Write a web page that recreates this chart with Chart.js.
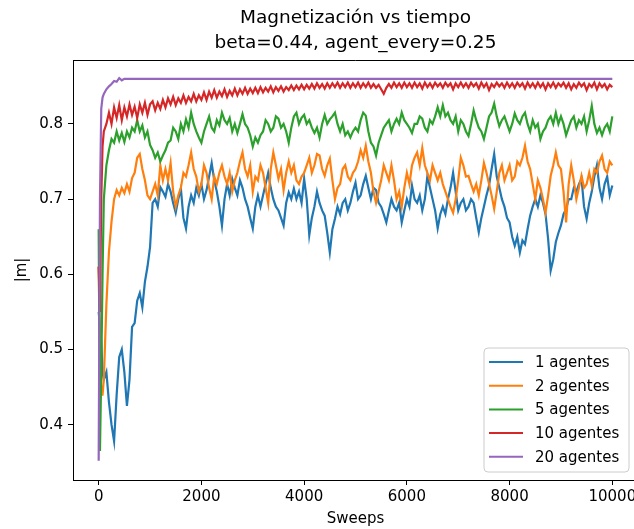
<!DOCTYPE html>
<html>
<head>
<meta charset="utf-8">
<title>Magnetización vs tiempo</title>
<script src="https://cdn.jsdelivr.net/npm/chart.js@4.4.1/dist/chart.umd.min.js"></script>
<style>
    html, body { margin: 0; padding: 0; background: #fff; overflow: hidden; }
    #magChart { display: block; }
</style>
</head>
<body>
<canvas id="magChart" width="640" height="529"></canvas>
<script>
// Sweeps shared by the 1, 2, 5 and 10 agent runs
const sweeps = [
    0, 25, 50, 75, 100, 150, 200, 250, 300, 350, 400, 450, 500, 550, 600, 650, 700, 750, 800, 850, 900, 950, 1000,
    1050, 1100, 1150, 1200, 1250, 1300, 1350, 1400, 1450, 1500, 1550, 1600, 1650, 1700, 1750, 1800, 1850, 1900, 1950, 2000,
    2050, 2100, 2150, 2200, 2250, 2300, 2350, 2400, 2450, 2500, 2550, 2600, 2650, 2700, 2750, 2800, 2850, 2900, 2950, 3000,
    3050, 3100, 3150, 3200, 3250, 3300, 3350, 3400, 3450, 3500, 3550, 3600, 3650, 3700, 3750, 3800, 3850, 3900, 3950, 4000,
    4050, 4100, 4150, 4200, 4250, 4300, 4350, 4400, 4450, 4500, 4550, 4600, 4650, 4700, 4750, 4800, 4850, 4900, 4950, 5000,
    5050, 5100, 5150, 5200, 5250, 5300, 5350, 5400, 5450, 5500, 5550, 5600, 5650, 5700, 5750, 5800, 5850, 5900, 5950, 6000,
    6050, 6100, 6150, 6200, 6250, 6300, 6350, 6400, 6450, 6500, 6550, 6600, 6650, 6700, 6750, 6800, 6850, 6900, 6950, 7000,
    7050, 7100, 7150, 7200, 7250, 7300, 7350, 7400, 7450, 7500, 7550, 7600, 7650, 7700, 7750, 7800, 7850, 7900, 7950, 8000,
    8050, 8100, 8150, 8200, 8250, 8300, 8350, 8400, 8450, 8500, 8550, 8600, 8650, 8700, 8750, 8800, 8850, 8900, 8950, 9000,
    9050, 9100, 9150, 9200, 9250, 9300, 9350, 9400, 9450, 9500, 9550, 9600, 9650, 9700, 9750, 9800, 9850, 9900, 9950, 10000
];

const m1 = [
    0.55, 0.53, 0.51, 0.47, 0.46, 0.47, 0.43, 0.40, 0.378, 0.44, 0.49, 0.50, 0.47, 0.425, 0.46, 0.53, 0.535, 0.565, 0.575, 0.556, 0.59, 0.61, 0.636,
    0.695, 0.70, 0.69, 0.716, 0.71, 0.703, 0.72, 0.71, 0.695, 0.682, 0.70, 0.714, 0.675, 0.661, 0.69, 0.705, 0.695, 0.715, 0.705, 0.72,
    0.70, 0.712, 0.73, 0.748, 0.725, 0.71, 0.69, 0.665, 0.70, 0.72, 0.705, 0.727, 0.715, 0.705, 0.725, 0.715, 0.70, 0.69, 0.675, 0.661,
    0.69, 0.705, 0.69, 0.705, 0.72, 0.735, 0.715, 0.70, 0.69, 0.685, 0.675, 0.665, 0.695, 0.709, 0.70, 0.714, 0.70, 0.71, 0.695, 0.727,
    0.70, 0.652, 0.675, 0.69, 0.71, 0.695, 0.685, 0.678, 0.655, 0.629, 0.66, 0.674, 0.69, 0.68, 0.695, 0.70, 0.685, 0.695, 0.71, 0.722,
    0.70, 0.705, 0.72, 0.731, 0.715, 0.70, 0.715, 0.712, 0.695, 0.69, 0.68, 0.669, 0.685, 0.70, 0.69, 0.685, 0.695, 0.669, 0.685, 0.70,
    0.69, 0.718, 0.70, 0.695, 0.705, 0.685, 0.70, 0.731, 0.715, 0.70, 0.685, 0.661, 0.68, 0.69, 0.68, 0.70, 0.715, 0.735, 0.71, 0.685,
    0.695, 0.70, 0.685, 0.69, 0.70, 0.695, 0.675, 0.656, 0.675, 0.69, 0.705, 0.718, 0.74, 0.76, 0.73, 0.715, 0.70, 0.69, 0.675, 0.669,
    0.65, 0.638, 0.65, 0.629, 0.645, 0.64, 0.66, 0.678, 0.69, 0.70, 0.69, 0.705, 0.695, 0.68, 0.647, 0.605, 0.62, 0.643, 0.655, 0.665,
    0.68, 0.687, 0.70, 0.70, 0.715, 0.71, 0.72, 0.727, 0.69, 0.674, 0.695, 0.71, 0.73, 0.745, 0.715, 0.70, 0.72, 0.73, 0.705, 0.718
];

const m2 = [
    0.61, 0.50, 0.44, 0.44, 0.46, 0.56, 0.63, 0.67, 0.70, 0.712, 0.705, 0.715, 0.708, 0.72, 0.71, 0.728, 0.735, 0.755, 0.76, 0.74, 0.725, 0.705, 0.70,
    0.71, 0.72, 0.705, 0.745, 0.725, 0.74, 0.725, 0.748, 0.71, 0.69, 0.705, 0.715, 0.735, 0.73, 0.745, 0.762, 0.74, 0.73, 0.71, 0.72,
    0.745, 0.735, 0.715, 0.70, 0.73, 0.72, 0.735, 0.745, 0.73, 0.72, 0.735, 0.71, 0.725, 0.735, 0.75, 0.762, 0.74, 0.73, 0.745, 0.71,
    0.73, 0.725, 0.745, 0.735, 0.715, 0.695, 0.74, 0.762, 0.745, 0.727, 0.74, 0.712, 0.735, 0.75, 0.735, 0.745, 0.725, 0.72, 0.73, 0.735,
    0.745, 0.755, 0.735, 0.745, 0.76, 0.758, 0.74, 0.731, 0.745, 0.754, 0.725, 0.70, 0.715, 0.72, 0.74, 0.745, 0.73, 0.725, 0.735, 0.74,
    0.75, 0.765, 0.755, 0.771, 0.75, 0.735, 0.71, 0.695, 0.71, 0.725, 0.745, 0.735, 0.725, 0.745, 0.725, 0.70, 0.71, 0.69, 0.715, 0.735,
    0.72, 0.745, 0.755, 0.762, 0.745, 0.768, 0.745, 0.735, 0.725, 0.745, 0.735, 0.725, 0.735, 0.72, 0.71, 0.70, 0.69, 0.682, 0.70, 0.725,
    0.755, 0.745, 0.73, 0.731, 0.72, 0.71, 0.72, 0.705, 0.725, 0.748, 0.735, 0.72, 0.705, 0.687, 0.71, 0.735, 0.745, 0.725, 0.735, 0.745,
    0.725, 0.73, 0.75, 0.745, 0.755, 0.771, 0.75, 0.74, 0.72, 0.70, 0.725, 0.715, 0.70, 0.682, 0.705, 0.731, 0.745, 0.762, 0.745, 0.74,
    0.71, 0.669, 0.72, 0.745, 0.725, 0.70, 0.715, 0.731, 0.715, 0.72, 0.735, 0.718, 0.74, 0.735, 0.75, 0.758, 0.74, 0.735, 0.75, 0.745
];

const m5 = [
    0.66, 0.365, 0.47, 0.60, 0.70, 0.745, 0.765, 0.78, 0.775, 0.79, 0.778, 0.788, 0.776, 0.79, 0.782, 0.795, 0.79, 0.805, 0.79, 0.798, 0.782, 0.79, 0.772,
    0.765, 0.755, 0.762, 0.75, 0.758, 0.765, 0.775, 0.778, 0.795, 0.79, 0.78, 0.80, 0.79, 0.806, 0.795, 0.815, 0.80, 0.79, 0.782, 0.775,
    0.79, 0.80, 0.81, 0.795, 0.79, 0.805, 0.798, 0.815, 0.805, 0.80, 0.808, 0.79, 0.80, 0.788, 0.80, 0.813, 0.80, 0.795, 0.785, 0.77,
    0.782, 0.775, 0.785, 0.79, 0.805, 0.80, 0.79, 0.795, 0.81, 0.807, 0.795, 0.80, 0.79, 0.775, 0.795, 0.81, 0.815, 0.80, 0.808, 0.812,
    0.80, 0.805, 0.795, 0.788, 0.795, 0.782, 0.80, 0.812, 0.80, 0.806, 0.81, 0.815, 0.80, 0.79, 0.80, 0.785, 0.79, 0.782, 0.79, 0.795,
    0.79, 0.805, 0.815, 0.811, 0.79, 0.775, 0.77, 0.758, 0.775, 0.785, 0.795, 0.80, 0.805, 0.79, 0.80, 0.807, 0.80, 0.815, 0.805, 0.80,
    0.795, 0.788, 0.80, 0.80, 0.81, 0.807, 0.795, 0.79, 0.805, 0.80, 0.81, 0.822, 0.81, 0.825, 0.81, 0.815, 0.805, 0.80, 0.81, 0.79,
    0.805, 0.80, 0.79, 0.784, 0.80, 0.818, 0.805, 0.795, 0.79, 0.78, 0.795, 0.81, 0.815, 0.827, 0.81, 0.797, 0.805, 0.81, 0.80, 0.79,
    0.80, 0.814, 0.805, 0.80, 0.81, 0.815, 0.80, 0.79, 0.805, 0.795, 0.80, 0.78, 0.79, 0.795, 0.805, 0.81, 0.80, 0.815, 0.80, 0.81,
    0.80, 0.785, 0.795, 0.805, 0.81, 0.795, 0.805, 0.80, 0.81, 0.79, 0.805, 0.824, 0.80, 0.788, 0.795, 0.785, 0.795, 0.80, 0.79, 0.81
];

const m10 = [
    0.61, 0.55, 0.70, 0.77, 0.79, 0.80, 0.815, 0.80, 0.822, 0.808, 0.825, 0.805, 0.822, 0.81, 0.826, 0.812, 0.823, 0.808, 0.826, 0.815, 0.828, 0.812, 0.826,
    0.83, 0.818, 0.828, 0.82, 0.832, 0.822, 0.834, 0.826, 0.836, 0.825, 0.834, 0.828, 0.838, 0.828, 0.836, 0.83, 0.84, 0.83, 0.838, 0.832,
    0.842, 0.832, 0.843, 0.835, 0.845, 0.835, 0.843, 0.837, 0.846, 0.836, 0.844, 0.838, 0.847, 0.838, 0.846, 0.84, 0.848, 0.84, 0.847, 0.841,
    0.848, 0.841, 0.849, 0.842, 0.848, 0.843, 0.85, 0.842, 0.849, 0.844, 0.85, 0.843, 0.849, 0.845, 0.851, 0.845, 0.851, 0.846, 0.852, 0.846,
    0.852, 0.847, 0.853, 0.847, 0.854, 0.848, 0.853, 0.847, 0.854, 0.848, 0.854, 0.849, 0.855, 0.848, 0.854, 0.849, 0.855, 0.848, 0.854, 0.849,
    0.855, 0.848, 0.854, 0.849, 0.855, 0.848, 0.853, 0.848, 0.852, 0.846, 0.84, 0.848, 0.853, 0.848, 0.855, 0.849, 0.854, 0.848, 0.855, 0.849,
    0.854, 0.848, 0.855, 0.849, 0.854, 0.847, 0.855, 0.849, 0.854, 0.848, 0.855, 0.85, 0.854, 0.848, 0.855, 0.85, 0.854, 0.846, 0.854, 0.849,
    0.855, 0.849, 0.854, 0.848, 0.855, 0.85, 0.854, 0.847, 0.855, 0.849, 0.854, 0.845, 0.853, 0.849, 0.855, 0.85, 0.854, 0.848, 0.855, 0.849,
    0.854, 0.848, 0.855, 0.85, 0.854, 0.847, 0.855, 0.849, 0.854, 0.848, 0.855, 0.849, 0.854, 0.846, 0.854, 0.849, 0.855, 0.848, 0.854, 0.85,
    0.855, 0.848, 0.854, 0.846, 0.853, 0.848, 0.855, 0.85, 0.854, 0.845, 0.853, 0.849, 0.855, 0.846, 0.854, 0.849, 0.853, 0.846, 0.852, 0.849
];

// 20 agents saturates almost at once, so it gets its own short sweep list
const sweeps20 = [0, 25, 50, 75, 100, 150, 200, 250, 300, 350, 400, 450, 500, 1000, 2000, 4000, 6000, 8000, 10000];
const m20 = [0.352, 0.70, 0.82, 0.835, 0.84, 0.846, 0.85, 0.853, 0.857, 0.856, 0.861, 0.858, 0.86, 0.86, 0.86, 0.86, 0.86, 0.86, 0.86];

const seriesLabels = ['1 agentes', '2 agentes', '5 agentes', '10 agentes', '20 agentes'];
const seriesColors = ['#1f77b4', '#ff7f0e', '#2ca02c', '#d62728', '#9467bd'];

const xTicks = [0, 2000, 4000, 6000, 8000, 10000];
const yTicks = [0.4, 0.5, 0.6, 0.7, 0.8];

const FONT = "'DejaVu Sans', 'Liberation Sans', sans-serif";

// Turn two arrays into {x, y} points for the linear x axis
function toPoints(xs, ys) {
    return ys.map((y, i) => ({ x: xs[i], y: y }));
}

// Title, axis labels, top/right frame and legend, drawn the matplotlib way
const decorPlugin = {
    id: 'decor',
    afterDraw(chart) {
        const ctx = chart.ctx;
        const area = chart.chartArea;
        const cx = (area.left + area.right) / 2;

        ctx.save();
        ctx.fillStyle = '#000';
        ctx.textAlign = 'center';
        ctx.textBaseline = 'middle';

        // Title
        ctx.font = '18.5px ' + FONT;
        ctx.fillText('Magnetización vs tiempo', cx, 18);
        ctx.fillText('beta=0.44, agent_every=0.25', cx, 43);

        // Axis labels
        ctx.font = '15px ' + FONT;
        ctx.fillText('Sweeps', cx, 519);
        ctx.save();
        ctx.translate(22, (area.top + area.bottom) / 2);
        ctx.rotate(-Math.PI / 2);
        ctx.fillText('|m|', 0, 0);
        ctx.restore();

        // Top and right spines
        ctx.strokeStyle = '#000';
        ctx.lineWidth = 1;
        ctx.beginPath();
        ctx.moveTo(area.left, area.top + 0.5);
        ctx.lineTo(area.right + 0.5, area.top + 0.5);
        ctx.lineTo(area.right + 0.5, area.bottom);
        ctx.stroke();

        // Legend box (lower right)
        const bx = 484, by = 348, bw = 145, bh = 124, r = 4;
        ctx.beginPath();
        ctx.moveTo(bx + r, by);
        ctx.arcTo(bx + bw, by, bx + bw, by + bh, r);
        ctx.arcTo(bx + bw, by + bh, bx, by + bh, r);
        ctx.arcTo(bx, by + bh, bx, by, r);
        ctx.arcTo(bx, by, bx + bw, by, r);
        ctx.closePath();
        ctx.fillStyle = 'rgba(255,255,255,0.8)';
        ctx.fill();
        ctx.strokeStyle = '#cccccc';
        ctx.stroke();

        ctx.textAlign = 'left';
        ctx.font = '15px ' + FONT;
        seriesLabels.forEach((label, i) => {
            const rowY = 362 + i * 23.7;
            ctx.strokeStyle = seriesColors[i];
            ctx.lineWidth = 2;
            ctx.beginPath();
            ctx.moveTo(489, rowY);
            ctx.lineTo(523, rowY);
            ctx.stroke();
            ctx.fillStyle = '#000';
            ctx.fillText(label, 535, rowY + 1);
        });

        ctx.restore();
    }
};

document.addEventListener('DOMContentLoaded', function() {
    const allX = [sweeps, sweeps, sweeps, sweeps, sweeps20];
    const allY = [m1, m2, m5, m10, m20];

    const datasets = allY.map((ys, i) => ({
        label: seriesLabels[i],
        data: toPoints(allX[i], ys),
        borderColor: seriesColors[i],
        backgroundColor: seriesColors[i],
        borderWidth: 2.2,
        pointRadius: 0,
        tension: 0,
        fill: false,
        // later series sit on top, as in matplotlib
        order: allY.length - i
    }));

    const ctx = document.getElementById('magChart').getContext('2d');
    new Chart(ctx, {
        type: 'line',
        data: { datasets: datasets },
        options: {
            responsive: false,
            animation: false,
            devicePixelRatio: 1,
            layout: { padding: { top: 60, right: 2, left: 0, bottom: 0 } },
            plugins: {
                legend: { display: false },
                title: { display: false },
                tooltip: { enabled: false }
            },
            scales: {
                x: {
                    type: 'linear',
                    min: -500,
                    max: 10500,
                    afterFit: function(scale) { scale.height = 49; },
                    afterBuildTicks: function(scale) {
                        scale.ticks = xTicks.map(v => ({ value: v }));
                    },
                    grid: { drawOnChartArea: false, drawTicks: true, tickLength: 5, color: '#000' },
                    border: { display: true, color: '#000', width: 1 },
                    ticks: {
                        color: '#000',
                        padding: 3,
                        maxRotation: 0,
                        font: { family: FONT, size: 15 },
                        callback: function(value) { return String(value); }
                    }
                },
                y: {
                    type: 'linear',
                    min: 0.3265,
                    max: 0.885,
                    afterFit: function(scale) { scale.width = 73; },
                    afterBuildTicks: function(scale) {
                        scale.ticks = yTicks.map(v => ({ value: v }));
                    },
                    grid: { drawOnChartArea: false, drawTicks: true, tickLength: 5, color: '#000' },
                    border: { display: true, color: '#000', width: 1 },
                    ticks: {
                        color: '#000',
                        padding: 5,
                        font: { family: FONT, size: 15 },
                        callback: function(value) { return value.toFixed(1); }
                    }
                }
            }
        },
        plugins: [decorPlugin]
    });
});
</script>
</body>
</html>
